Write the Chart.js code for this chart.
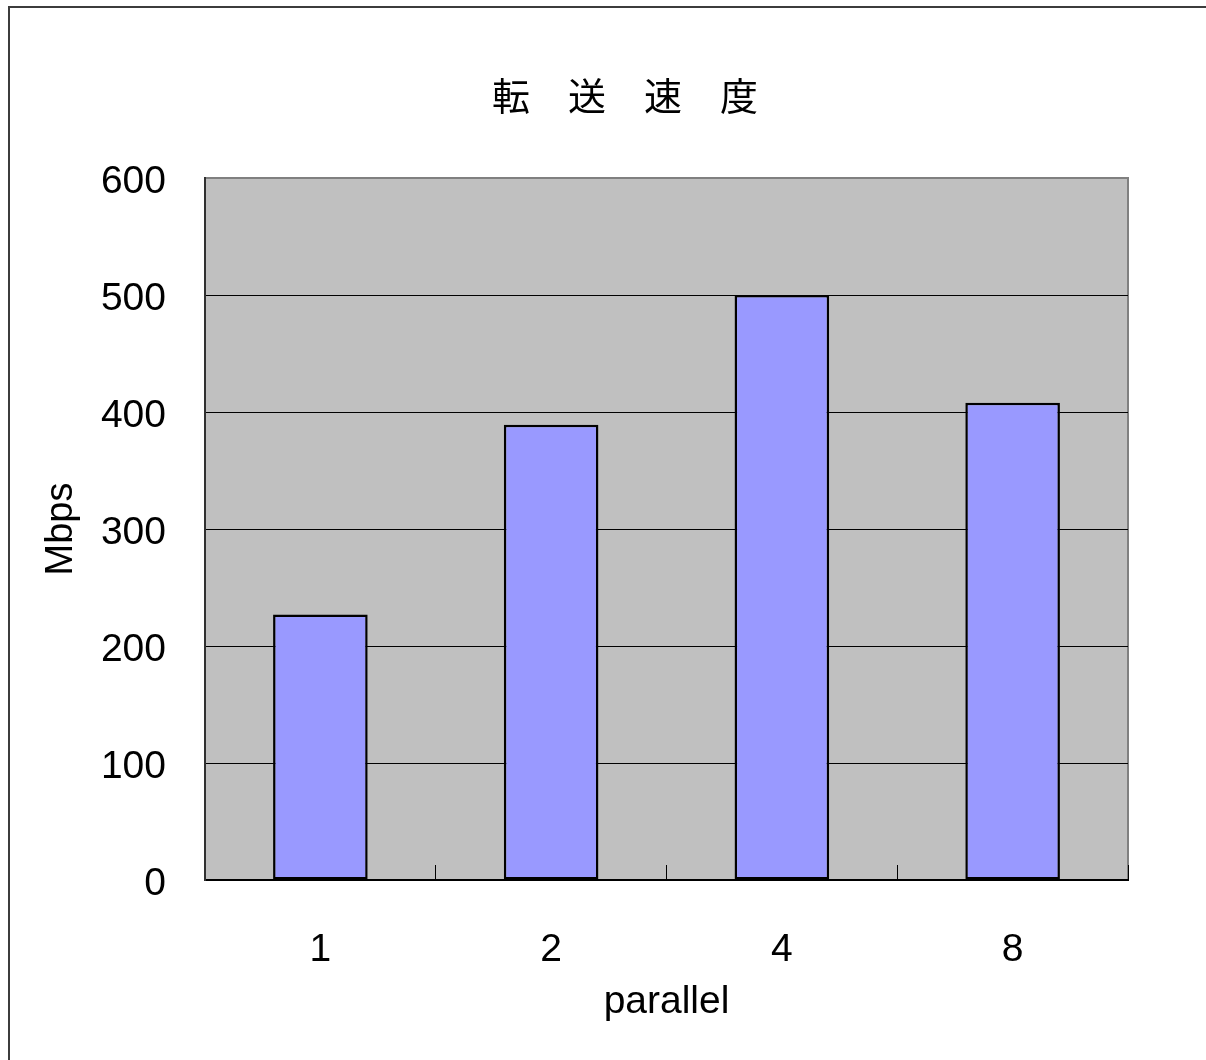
<!DOCTYPE html>
<html>
<head>
<meta charset="utf-8">
<script src="https://cdn.jsdelivr.net/npm/chart.js@4/dist/chart.umd.min.js"></script>
<style>
  html, body { margin: 0; padding: 0; background: #fff; }
  #wrap { width: 1206px; height: 1060px; }
</style>
</head>
<body>
<div id="wrap"><canvas id="c" width="1206" height="1060"></canvas></div>
<script>
// Transfer speed by number of parallel streams
const categories = ['1', '2', '4', '8'];
const mbps = [227, 389, 500, 408];
const yTicks = [0, 100, 200, 300, 400, 500, 600];

const TITLE = '転　送　速　度';
const X_TITLE = 'parallel';
const Y_TITLE = 'Mbps';

const latin = "'Liberation Sans', Arial, sans-serif";
const cjk = "'Noto Sans CJK JP', 'Noto Sans CJK SC', sans-serif";

// Grey plot background with a frame, plus the outer chart border
const frame = {
  id: 'frame',
  beforeDraw(chart) {
    const { ctx, chartArea: a } = chart;
    ctx.save();
    ctx.fillStyle = '#ffffff';
    ctx.fillRect(0, 0, chart.width, chart.height);
    ctx.strokeStyle = '#3c3c3c';
    ctx.lineWidth = 2;
    ctx.strokeRect(9, 7, chart.width + 20, chart.height + 20);
    ctx.fillStyle = '#c0c0c0';
    ctx.fillRect(a.left, a.top, a.right - a.left, a.bottom - a.top);
    ctx.strokeStyle = '#808080';
    ctx.lineWidth = 2;
    ctx.strokeRect(a.left, a.top, a.right - a.left, a.bottom - a.top);
    ctx.restore();
  },
  afterLayout(chart) {
    // centre the title over the framed area rather than the padded box
    const t = chart.titleBlock;
    if (t) { t.left = 44; t.right = chart.width; t.width = t.right - t.left; }
  }
};

new Chart(document.getElementById('c'), {
  type: 'bar',
  data: {
    labels: categories,
    datasets: [{
      data: mbps,
      backgroundColor: '#9999ff',
      borderColor: '#000000',
      borderWidth: 2.5,
      borderSkipped: false,
      barPercentage: 0.41,
      categoryPercentage: 1.0
    }]
  },
  options: {
    responsive: false,
    animation: false,
    events: [],
    layout: { padding: { left: 0, right: 78, top: 0, bottom: 0 } },
    plugins: {
      legend: { display: false },
      tooltip: { enabled: false },
      title: {
        display: true,
        text: TITLE,
        color: '#000',
        font: { family: cjk, size: 38, weight: 'normal', lineHeight: 1.2 },
        padding: { top: 73, bottom: 59.4 }
      }
    },
    scales: {
      x: {
        afterFit(scale) { scale.height = 180; },
        grid: {
          offset: true,
          drawOnChartArea: false,
          drawTicks: true,
          tickLength: -15,
          color: '#000',
          lineWidth: 1
        },
        border: { display: true, color: '#000', width: 2 },
        ticks: {
          color: '#000',
          font: { family: latin, size: 39 },
          padding: 62
        },
        title: {
          display: true,
          text: X_TITLE,
          color: '#000',
          font: { family: latin, size: 39 },
          padding: { top: 0, bottom: 34 }
        }
      },
      y: {
        min: 0,
        max: 600,
        afterFit(scale) { scale.width = 205; },
        afterBuildTicks(scale) { scale.ticks = yTicks.map(v => ({ value: v })); },
        grid: {
          drawTicks: false,
          color: ctx => (ctx.tick && ctx.tick.value === 600) ? 'rgba(0,0,0,0)' : '#000',
          lineWidth: 1
        },
        border: { display: true, color: '#303030', width: 2 },
        ticks: {
          color: '#000',
          font: { family: latin, size: 39 },
          padding: 39,
          labelOffset: 4
        },
        title: {
          display: true,
          text: Y_TITLE,
          color: '#000',
          font: { family: latin, size: 38 },
          padding: { top: 39, bottom: 0 }
        }
      }
    }
  },
  plugins: [frame]
});
</script>
</body>
</html>
